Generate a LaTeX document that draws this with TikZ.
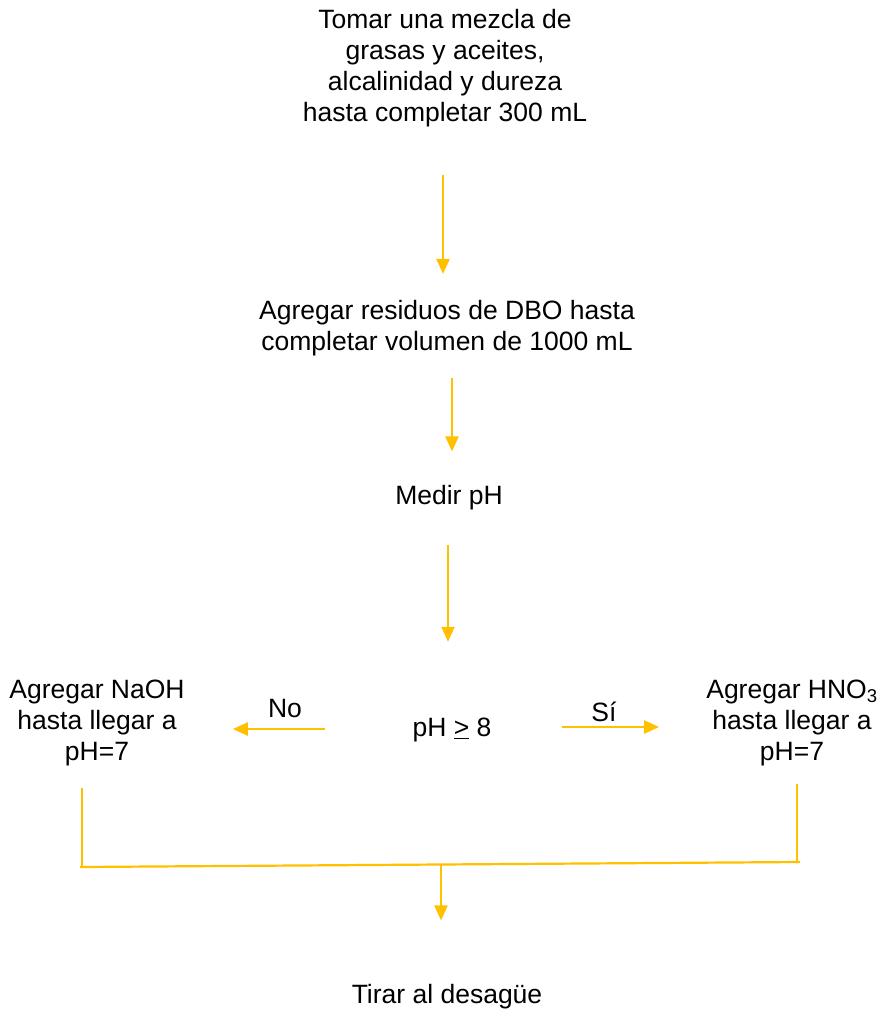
\documentclass[tikz,border=0pt]{standalone}
\usepackage{fontspec}
\setmainfont{Liberation Sans}
\usepackage{tikz}
\usetikzlibrary{arrows.meta, positioning, calc}
\definecolor{flowYellow}{RGB}{255, 192, 0}
\tikzstyle{arrow} = [line width=2.2pt, draw=flowYellow, -{Triangle[width=13pt,length=15pt]}]
\tikzstyle{line} = [line width=2.2pt, draw=flowYellow]
\tikzstyle{basic} = [align=center, inner sep=0pt, font=\fontsize{26.5}{31}\selectfont, text=black]

\begin{document}
\begin{tikzpicture}[x=1pt, y=-1pt]
\useasboundingbox (0,0) rectangle (883,1011);

\node (mezcla) [basic] at (445,68) {Tomar una mezcla de\\grasas y aceites,\\alcalinidad y dureza\\hasta completar 300 mL};
\node (dbo) [basic] at (447,328) {Agregar residuos de DBO hasta\\completar volumen de 1000 mL};
\node (medir) [basic] at (449,498) {Medir pH};
\node (cond) [basic] at (452,730) {pH \underline{>} 8};
\node (naoh) [basic] at (97,723) {Agregar NaOH\\hasta llegar a\\pH=7};
\node (hno) [basic] at (792,723) {Agregar HNO\textsubscript{3}\\hasta llegar a\\pH=7};
\node (tirar) [basic] at (447,997) {Tirar al desag\"ue};

\draw [arrow, shorten <=48pt, shorten >=26pt] (mezcla.south -| 443,0) -- (dbo.north -| 443,0);
\draw [arrow, shorten <=22pt, shorten >=34pt] (dbo.south -| 452,0) -- (medir.north -| 452,0);
\draw [arrow, shorten <=34pt, shorten >=76pt] (medir.south -| 448,0) -- (cond.north -| 448,0);

\draw [arrow, shorten <=87pt, shorten >=48pt] (cond.west |- 0,729) -- (naoh.east |- 0,729);
\node (no) [basic] at (285,709) {No};
\draw [arrow, shorten <=70pt, shorten >=47pt] (cond.east |- 0,727) -- (hno.west |- 0,727);
\node (si) [basic] at (604,712) {Sí};

% bracket joining both branches
\coordinate (joinL) at (80,867);
\coordinate (joinR) at (800,862);
\coordinate (joinM) at ($(joinL)!0.5!(joinR)$);
\draw [line, shorten <=22pt] (naoh.south -| 82,0) -- (82,867);
\draw [line, shorten <=18pt] (hno.south -| 797,0) -- (797,862);
\draw [line] (joinL) -- (joinR);
\draw [arrow, shorten >=64pt] (joinM -| 441,0) -- (tirar.north -| 441,0);

\end{tikzpicture}
\end{document}
